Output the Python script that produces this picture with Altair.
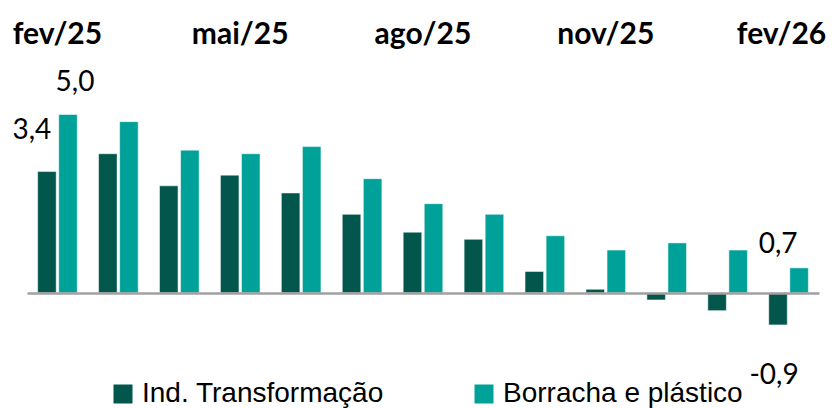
import altair as alt
import pandas as pd

months = ["fev/25", "mar/25", "abr/25", "mai/25", "jun/25", "jul/25", "ago/25",
          "set/25", "out/25", "nov/25", "dez/25", "jan/26", "fev/26"]
ind = [3.4, 3.9, 3.0, 3.3, 2.8, 2.2, 1.7, 1.5, 0.6, 0.1, -0.2, -0.5, -0.9]
borr = [5.0, 4.8, 4.0, 3.9, 4.1, 3.2, 2.5, 2.2, 1.6, 1.2, 1.4, 1.2, 0.7]
series_names = ["Ind. Transformação", "Borracha e plástico"]
tick_labels = ["fev/25", "mai/25", "ago/25", "nov/25", "fev/26"]
colors = ["#02564C", "#00A199"]

rows = []
for i, m in enumerate(months):
    rows.append({"mes": m, "serie": series_names[0], "valor": ind[i]})
    rows.append({"mes": m, "serie": series_names[1], "valor": borr[i]})
df = pd.DataFrame(rows)
df["rotulo"] = df["valor"].map(lambda v: f"{v:.1f}".replace(".", ","))

x = alt.X("mes:N", sort=months,
          scale=alt.Scale(domain=months, paddingInner=0.35, paddingOuter=0.175),
          axis=alt.Axis(orient="top", values=tick_labels, title=None, domain=False,
                        ticks=False, labelAngle=0, labelFont="Lato", labelFontSize=30,
                        labelFontWeight="bold", labelColor="black", labelPadding=18,
                        labelBaseline="alphabetic", labelOverlap=False, labelBound=False,
                        labelOffset={"condition": {"test": "datum.value === 'fev/26'", "value": -7},
                                     "value": 0}))
xoff = alt.XOffset("serie:N", sort=series_names,
                   scale=alt.Scale(domain=series_names, paddingInner=0.12, paddingOuter=0))
y = alt.Y("valor:Q", scale=alt.Scale(domain=[-2.5, 6.5], nice=False, zero=False),
          axis=alt.Axis(values=[0], grid=True, gridColor="#a0a0a0", gridWidth=2.5,
                        labels=False, ticks=False, domain=False, title=None, zindex=1))
color = alt.Color("serie:N", sort=series_names,
                  scale=alt.Scale(domain=series_names, range=colors),
                  legend=alt.Legend(orient="none", legendX=82, legendY=319, direction="horizontal",
                                    title=None, symbolType="square", symbolSize=361,
                                    symbolStrokeWidth=0, labelFont="Liberation Sans",
                                    labelFontSize=28, labelOffset=5, labelLimit=500,
                                    columnPadding=86, padding=0, labelColor="black"))

bars = alt.Chart(df).mark_bar(stroke="white", strokeWidth=0.5).encode(
    x=x, xOffset=xoff, y=y, color=color)


def lab(month, serie, dx, dy):
    return alt.Chart(df).transform_filter(
        (alt.datum.mes == month) & (alt.datum.serie == serie)
    ).mark_text(dx=dx, dy=dy, font="Lato", fontSize=28, baseline="alphabetic",
                align="center", color="black").encode(
        x=x, xOffset=xoff, y=y, text="rotulo:N")


labels = [
    lab("fev/25", series_names[0], -15, -33),
    lab("fev/25", series_names[1], 7, -24),
    lab("fev/26", series_names[1], -21, -15),
    lab("fev/26", series_names[0], -4, 59),
]

chart = alt.layer(bars, *labels).properties(
    width=792, height=321,
    autosize=alt.AutoSizeParams(type="none"),
    padding={"left": 19, "top": 53, "right": 12, "bottom": 26},
).configure_view(stroke=None)

chart.save("out.html", embed_options={"renderer": "svg", "actions": False})
